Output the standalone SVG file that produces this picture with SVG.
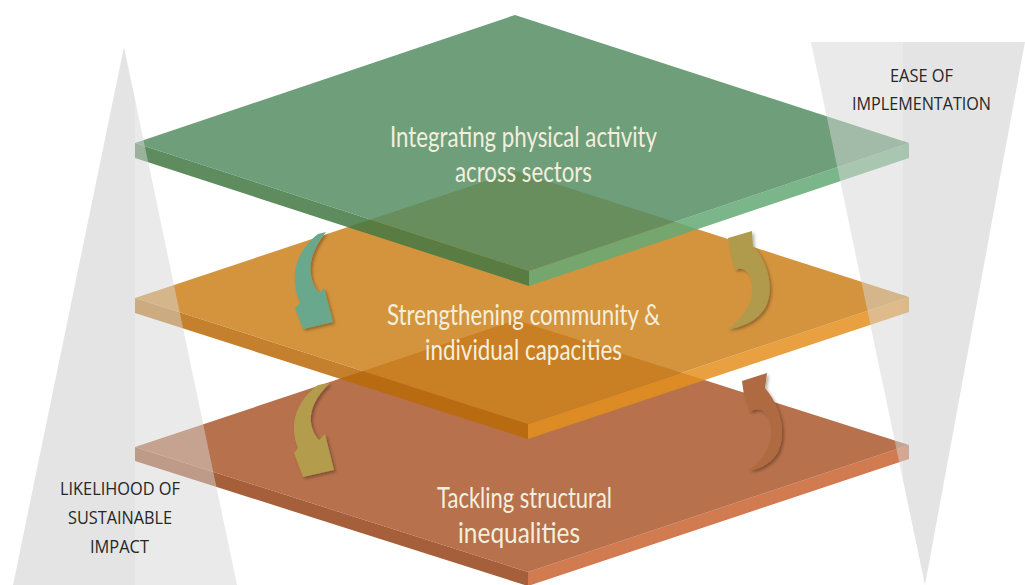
<svg xmlns="http://www.w3.org/2000/svg" width="1025" height="585" viewBox="0 0 1025 585">
<defs>
<style>
.ptext{font-family:Lato,"Open Sans","Liberation Sans",sans-serif;font-size:28px;fill:#f3efde}
.ltext{font-family:"Open Sans","Liberation Sans",sans-serif;font-size:19px;fill:#262626}
.face{fill-opacity:0.85}
</style>
<filter id="sh" x="-30%" y="-30%" width="160%" height="160%">
<feDropShadow dx="2" dy="2" stdDeviation="1.5" flood-color="#000" flood-opacity="0.3"/>
</filter>
<clipPath id="outer"><rect x="0" y="0" width="135" height="585"/><rect x="903" y="0" width="122" height="585"/></clipPath>
<clipPath id="inner"><rect x="135" y="0" width="768" height="585"/></clipPath>
</defs>
<rect width="1025" height="585" fill="#ffffff"/>

<g id="plate-brown">
<polygon class="face" fill="#954419" points="135,447 528,572 528,586 135,461"/>
<polygon class="face" fill="#ca6331" points="528,572 909,445 909,459 528,586"/>
<polygon class="face" fill="#aa582d" points="516,320 135,447 528,572 909,445"/>
</g>
<g id="plate-orange">
<polygon class="face" fill="#ba6a08" points="135,298 528,424 528,439 135,313"/>
<polygon class="face" fill="#e48f1e" points="528,424 909,297 909,312 528,439"/>
<polygon class="face" fill="#cd811c" points="516,171 135,298 528,424 909,297"/>
</g>
<g id="plate-green">
<polygon class="face" fill="#437843" points="135,143 529,271 529,286 135,158"/>
<polygon class="face" fill="#63a975" points="529,271 909,143 909,158 529,286"/>
<polygon class="face" fill="#558d63" points="515,15 135,143 529,271 909,143"/>
</g>

<g id="connectors" filter="url(#sh)">
<path id="arrow-1" fill="#6aa88d" d="M318,234 C300,248 287,272 300,303 L295,308 L303,329 L333,322 L324,288 L319,293 C308,280 305,258 326,232 Z"/>
<path id="arrow-2" fill="#b09a4c" d="M728,238 L752,231 L753,246 C768,262 775,290 765,308 C758,320 742,328 727,329 C745,318 755,300 752,282 C750,272 744,266 735,270 L730,250 Z"/>
<path id="arrow-3" fill="#b39c4b" d="M318,385 C300,398 287,421 298,448 L294,453 L303,477 L334,470 L325,434 L319,440 C308,427 305,407 330,383 Z"/>
<path id="arrow-4" fill="#b06a43" d="M742,381 L767,373 L765,388 C780,405 787,432 778,452 C770,465 758,470 748,470 C765,460 775,440 770,422 C767,412 760,405 750,412 L744,395 Z"/>
</g>

<g id="scales">
<g clip-path="url(#outer)" fill="#cdcdcd" fill-opacity="0.55">
<polygon points="124,47 13,585 237,585"/>
<polygon points="811,42 1025,42 925,585"/>
</g>
<g clip-path="url(#inner)" fill="#d6d6d6" fill-opacity="0.5">
<polygon points="124,47 13,585 237,585"/>
<polygon points="811,42 1025,42 925,585"/>
</g>
</g>

<g id="label-green">
<text class="ptext" x="390" y="147" textLength="267" lengthAdjust="spacingAndGlyphs">Integrating physical activity</text>
<text class="ptext" x="455" y="182" textLength="137" lengthAdjust="spacingAndGlyphs">across sectors</text>
</g>
<g id="label-orange">
<text class="ptext" x="387" y="325" textLength="273" lengthAdjust="spacingAndGlyphs">Strengthening community &amp;</text>
<text class="ptext" x="425" y="360" textLength="197" lengthAdjust="spacingAndGlyphs">individual capacities</text>
</g>
<g id="label-brown">
<text class="ptext" x="437" y="508" textLength="175" lengthAdjust="spacingAndGlyphs">Tackling structural</text>
<text class="ptext" x="458" y="543" textLength="122" lengthAdjust="spacingAndGlyphs">inequalities</text>
</g>
<g id="label-ease">
<text class="ltext" x="890" y="82" textLength="63" lengthAdjust="spacingAndGlyphs">EASE OF</text>
<text class="ltext" x="852" y="110" textLength="139" lengthAdjust="spacingAndGlyphs">IMPLEMENTATION</text>
</g>
<g id="label-impact">
<text class="ltext" x="60" y="495" textLength="120" lengthAdjust="spacingAndGlyphs">LIKELIHOOD OF</text>
<text class="ltext" x="68" y="524" textLength="104" lengthAdjust="spacingAndGlyphs">SUSTAINABLE</text>
<text class="ltext" x="90" y="553" textLength="59" lengthAdjust="spacingAndGlyphs">IMPACT</text>
</g>
</svg>
